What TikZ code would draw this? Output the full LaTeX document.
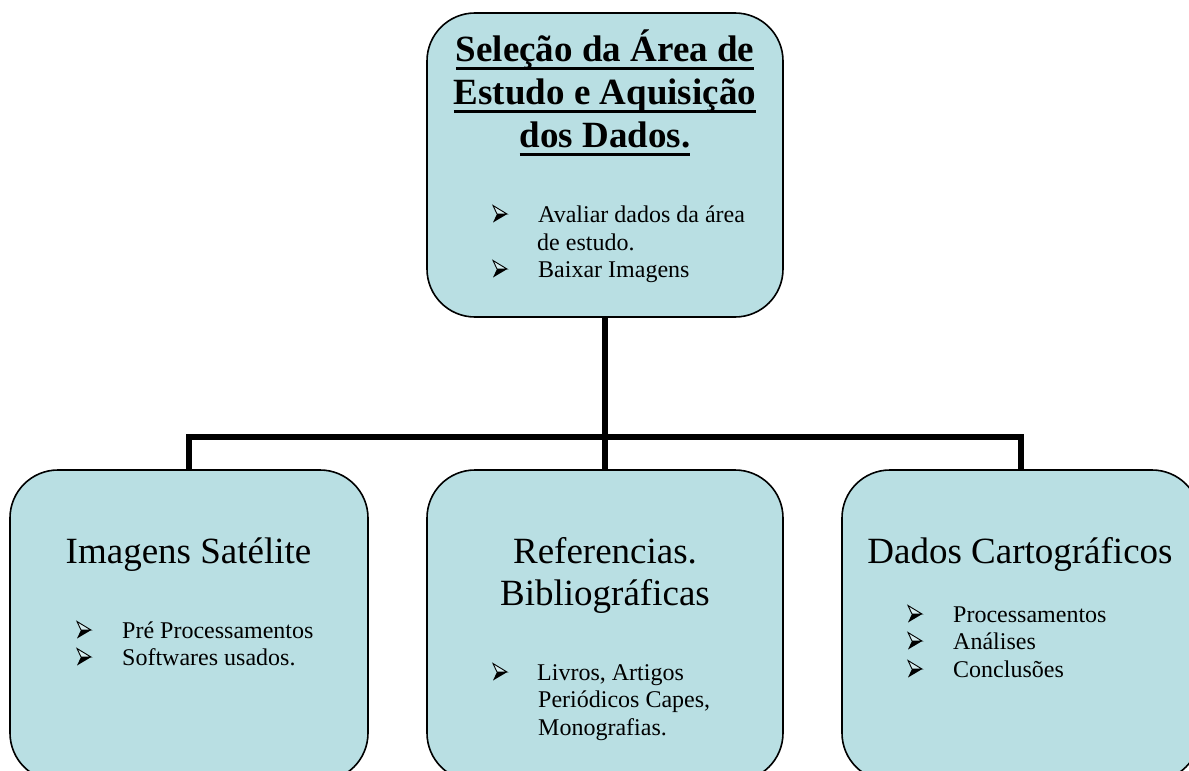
\documentclass[tikz,border=0pt]{standalone}
\usepackage{fontspec}
\setmainfont{Liberation Serif}
\usetikzlibrary{backgrounds}
\newcommand\myul[1]{\setbox0\hbox{#1}\rlap{\rule[-8.5pt]{\wd0}{3pt}}\box0}
\definecolor{boxfill}{RGB}{185,223,227}
\tikzset{
  box/.style={draw=black, line width=1.6pt, fill=boxfill, rounded corners=48pt, inner sep=0pt},
  conn/.style={line width=6.5pt, line join=miter, black},
  head/.style={font=\fontsize{37pt}{43pt}\selectfont, anchor=base, inner sep=0pt},
  title/.style={font=\fontsize{37pt}{43pt}\selectfont\bfseries, anchor=base, inner sep=0pt},
  item/.style={font=\fontsize{24pt}{28pt}\selectfont, anchor=base west, inner sep=0pt},
  barrow/.pic={
    \draw[line width=0.9pt, line join=miter, fill=white!40!boxfill] (0,-16.5) -- (14,-8) -- (4,-8) -- cycle;
    \fill[black] (0,0.5) -- (14.3,-8) -- (4,-8) -- cycle;
  },
}
\begin{document}
\begin{tikzpicture}[x=1pt,y=-1pt]
\useasboundingbox (0,0) rectangle (1189,771);
\node[box, minimum width=356pt, minimum height=304pt] (top) at (605,165) {};
\node[box, minimum width=358pt, minimum height=311pt] (left) at (189,625.5) {};
\node[box, minimum width=356pt, minimum height=311pt] (mid) at (605,625.5) {};
\node[box, minimum width=358pt, minimum height=311pt] (right) at (1021,625.5) {};
\coordinate (hub) at (605,437);
\begin{scope}[on background layer]
\draw[conn] (top.south) -- (hub);
\draw[conn] (left.north) |- (hub) -| (right.north);
\draw[conn] (hub) -- (mid.north);
\end{scope}
% top box text
\node[title] (t1) at (605,61) {\myul{Seleção da Área de}};
\node[title] (t2) at (605,104) {\myul{Estudo e Aquisição}};
\node[title] (t3) at (605,147) {\myul{dos Dados.}};
\pic at (493,222) {barrow};
\node[item] (ti1) at (538,222) {Avaliar dados da área};
\node[item] (ti2) at (537,250) {de estudo.};
\pic at (493,277) {barrow};
\node[item] (ti3) at (538,277) {Baixar Imagens};
% left box text
\node[head] (lh) at (188.5,563) {Imagens Satélite};
\pic at (77,638) {barrow};
\node[item] (li1) at (122,638) {Pré Processamentos};
\pic at (77,665) {barrow};
\node[item] (li2) at (122,665) {Softwares usados.};
% middle box text
\node[head] (mh1) at (605,563) {Referencias.};
\node[head] (mh2) at (605,605) {Bibliográficas};
\pic at (493,680) {barrow};
\node[item] (mi1) at (537,680) {Livros, Artigos};
\node[item] (mi2) at (538,707) {Periódicos Capes,};
\node[item] (mi3) at (538,735) {Monografias.};
% right box text
\node[head] (rh) at (1020,563) {Dados Cartográficos};
\pic at (908,622) {barrow};
\node[item] (ri1) at (953,622) {Processamentos};
\pic at (908,649) {barrow};
\node[item] (ri2) at (953,649) {Análises};
\pic at (908,677) {barrow};
\node[item] (ri3) at (953,677) {Conclusões};
\end{tikzpicture}
\end{document}
